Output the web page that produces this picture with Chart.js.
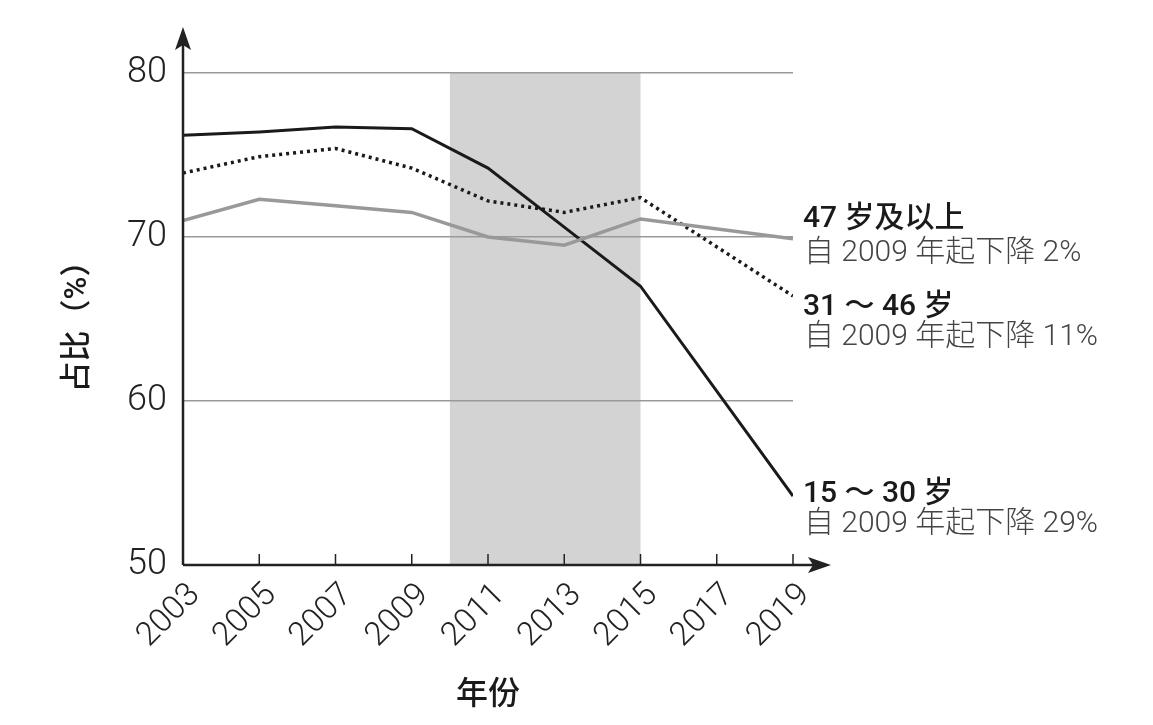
<!DOCTYPE html>
<html>
<head>
<meta charset="utf-8">
<script src="https://cdn.jsdelivr.net/npm/chart.js@4.4.1/dist/chart.umd.min.js"></script>
<style>
  html, body { margin: 0; padding: 0; background: #fff; }
  #wrap { width: 1153px; height: 725px; }
</style>
</head>
<body>
<div id="wrap"><canvas id="lineChart" width="1153" height="725"></canvas></div>
<script>
// years that have data (no 2017 point in the source)
const years = [2003, 2005, 2007, 2009, 2011, 2013, 2015, 2019];
const xTicks = [2003, 2005, 2007, 2009, 2011, 2013, 2015, 2017, 2019];
const yTicks = [50, 60, 70, 80];

const young = [76.2, 76.4, 76.7, 76.6, 74.2, 70.6, 67.0, 54.2];   // 15～30 岁
const middle = [73.9, 74.9, 75.4, 74.2, 72.2, 71.5, 72.4, 66.4];  // 31～46 岁
const older = [71.0, 72.3, 71.9, 71.5, 70.0, 69.5, 71.1, 69.9];   // 47 岁及以上

const shadeFrom = 2010;
const shadeTo = 2015;

const seriesNames = ['47 岁及以上', '31 ～ 46 岁', '15 ～ 30 岁'];
const seriesNotes = ['自 2009 年起下降 2%', '自 2009 年起下降 11%', '自 2009 年起下降 29%'];

const MED = 'Roboto, "Noto Sans CJK SC", sans-serif';
const LIGHT = 'Roboto, "Noto Sans CJK SC", sans-serif';

function pts(vals) {
  return vals.map((v, i) => ({ x: years[i], y: v }));
}

const shadePlugin = {
  id: 'shade',
  beforeDraw(chart) {
    const { ctx, chartArea } = chart;
    const x = chart.scales.x;
    const x0 = x.getPixelForValue(shadeFrom);
    const x1 = x.getPixelForValue(shadeTo);
    ctx.save();
    ctx.fillStyle = '#d3d3d3';
    ctx.fillRect(x0, chartArea.top, x1 - x0, chartArea.bottom - chartArea.top);
    ctx.restore();
  }
};

const axesPlugin = {
  id: 'arrowAxes',
  afterDatasetsDraw(chart) {
    const { ctx, chartArea } = chart;
    const x = chart.scales.x;
    const L = chartArea.left, B = chartArea.bottom;
    ctx.save();
    ctx.strokeStyle = '#222';
    ctx.fillStyle = '#222';
    ctx.lineWidth = 2.5;
    // y axis
    ctx.beginPath();
    ctx.moveTo(L, B);
    ctx.lineTo(L, 40);
    ctx.stroke();
    ctx.beginPath();
    ctx.moveTo(L, 27);
    ctx.lineTo(L - 8, 50);
    ctx.lineTo(L, 45);
    ctx.lineTo(L + 8, 50);
    ctx.closePath();
    ctx.fill();
    // x axis
    ctx.beginPath();
    ctx.moveTo(L, B);
    ctx.lineTo(818, B);
    ctx.stroke();
    ctx.beginPath();
    ctx.moveTo(831, B);
    ctx.lineTo(808, B - 8);
    ctx.lineTo(813, B);
    ctx.lineTo(808, B + 8);
    ctx.closePath();
    ctx.fill();
    // inner tick marks
    ctx.lineWidth = 1.5;
    xTicks.forEach(t => {
      const px = x.getPixelForValue(t);
      ctx.beginPath();
      ctx.moveTo(px, B);
      ctx.lineTo(px, B - 11);
      ctx.stroke();
    });
    ctx.restore();
  }
};

const labelPlugin = {
  id: 'endLabels',
  afterDraw(chart) {
    const { ctx } = chart;
    const spots = [[219, 253], [307, 337], [494, 524]];
    ctx.save();
    ctx.textBaseline = 'middle';
    ctx.textAlign = 'left';
    seriesNames.forEach((n, i) => {
      ctx.fillStyle = '#1a1a1a';
      ctx.font = '500 30px ' + MED;
      ctx.fillText(n, 803, spots[i][0]);
      ctx.fillStyle = '#444';
      ctx.font = '300 30px ' + LIGHT;
      ctx.fillText(seriesNotes[i], 804, spots[i][1]);
    });
    ctx.restore();
  }
};

new Chart(document.getElementById('lineChart'), {
  type: 'line',
  data: {
    datasets: [
      { label: seriesNames[0], data: pts(older), borderColor: '#999', borderWidth: 3.5 },
      { label: seriesNames[1], data: pts(middle), borderColor: '#1a1a1a', borderWidth: 3.5, borderDash: [3, 4] },
      { label: seriesNames[2], data: pts(young), borderColor: '#1a1a1a', borderWidth: 3 }
    ]
  },
  options: {
    responsive: false,
    animation: false,
    devicePixelRatio: 1,
    layout: { padding: { left: 0, right: 360, top: 73, bottom: 0 } },
    elements: { point: { radius: 0 }, line: { tension: 0, borderCapStyle: 'butt', borderJoinStyle: 'miter' } },
    plugins: { legend: { display: false }, tooltip: { enabled: false } },
    scales: {
      x: {
        type: 'linear',
        min: 2003,
        max: 2019,
        afterFit: s => { s.height = 160; },
        afterBuildTicks: s => { s.ticks = xTicks.map(v => ({ value: v })); },
        ticks: {
          autoSkip: false,
          minRotation: 45,
          maxRotation: 45,
          padding: 11,
          labelOffset: 12,
          color: '#222',
          font: { family: LIGHT, size: 33, weight: '300' },
          callback: v => String(v)
        },
        grid: { display: false, drawTicks: false },
        border: { display: false },
        title: {
          display: true,
          text: '年份',
          color: '#1a1a1a',
          font: { family: MED, size: 32, weight: '500' },
          padding: { top: 0, bottom: 10 }
        }
      },
      y: {
        min: 50,
        max: 80,
        afterFit: s => { s.width = 183; },
        afterBuildTicks: s => { s.ticks = yTicks.map(v => ({ value: v })); },
        ticks: {
          padding: 16,
          color: '#222',
          font: { family: LIGHT, size: 36, weight: '300' }
        },
        grid: {
          drawTicks: false,
          color: ctx => ctx.tick && ctx.tick.value === 50 ? 'rgba(0,0,0,0)' : '#999',
          lineWidth: 1.5
        },
        border: { display: false },
        title: {
          display: true,
          text: '占比（%）',
          color: '#1a1a1a',
          font: { family: MED, size: 31, weight: '500' },
          padding: { top: 60, bottom: 0 }
        }
      }
    }
  },
  plugins: [shadePlugin, axesPlugin, labelPlugin]
});
</script>
</body>
</html>
